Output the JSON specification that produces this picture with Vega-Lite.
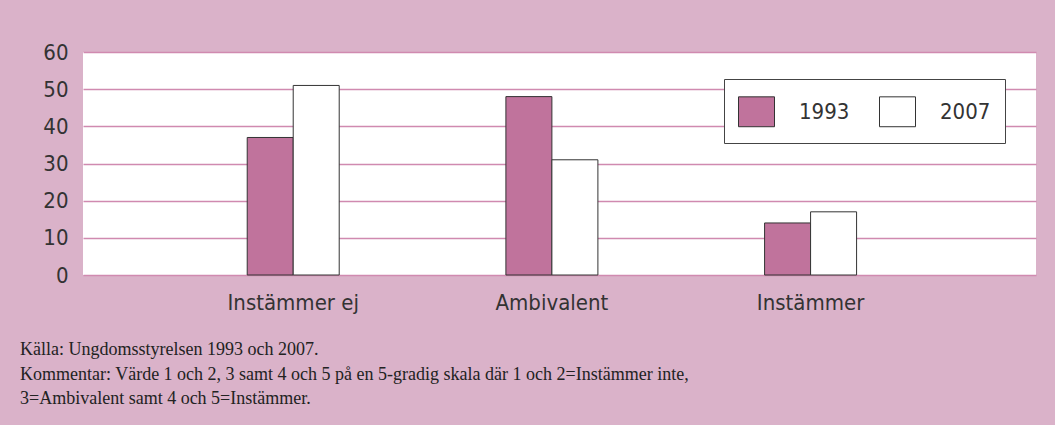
{
  "$schema": "https://vega.github.io/schema/vega-lite/v6.json",
  "autosize": {"type": "none"},
  "width": 953,
  "height": 223,
  "padding": {"left": 83, "top": 52, "right": 19, "bottom": 150},
  "background": "#dab2c9",
  "data": {
    "values": [
      {"kategori": "Instämmer ej", "år": "1993", "andel": 37},
      {"kategori": "Instämmer ej", "år": "2007", "andel": 51},
      {"kategori": "Ambivalent", "år": "1993", "andel": 48},
      {"kategori": "Ambivalent", "år": "2007", "andel": 31},
      {"kategori": "Instämmer", "år": "1993", "andel": 14},
      {"kategori": "Instämmer", "år": "2007", "andel": 17}
    ]
  },
  "title": {
    "text": [
      "Källa: Ungdomsstyrelsen 1993 och 2007.",
      "Kommentar:  Värde 1 och 2, 3 samt 4 och 5 på en 5-gradig skala där 1 och 2=Instämmer inte,",
      "3=Ambivalent samt 4 och 5=Instämmer."
    ],
    "orient": "bottom",
    "anchor": "start",
    "frame": "group",
    "dx": -63,
    "offset": 28,
    "font": "Liberation Serif",
    "fontSize": 18,
    "fontWeight": "normal",
    "lineHeight": 24.5,
    "color": "#222222"
  },
  "mark": {"type": "bar", "stroke": "#333333", "strokeWidth": 1},
  "encoding": {
    "x": {
      "field": "kategori",
      "type": "nominal",
      "sort": ["Instämmer ej", "Ambivalent", "Instämmer"],
      "scale": {"paddingInner": 0, "paddingOuter": 0.342, "align": 0.457},
      "axis": {
        "title": null,
        "labelAngle": 0,
        "domain": false,
        "ticks": false,
        "labelPadding": 17,
        "labelFont": "DejaVu Sans Condensed",
        "labelFontSize": 22,
        "labelColor": "#333333"
      }
    },
    "xOffset": {
      "field": "år",
      "type": "nominal",
      "scale": {"paddingInner": 0, "paddingOuter": 0, "range": [83.35, 175.35]}
    },
    "y": {
      "field": "andel",
      "type": "quantitative",
      "scale": {"domain": [0, 60], "nice": false},
      "axis": {
        "title": null,
        "values": [0, 10, 20, 30, 40, 50, 60],
        "domain": false,
        "ticks": false,
        "labelPadding": 15,
        "labelFont": "DejaVu Sans Condensed",
        "labelFontSize": 22,
        "labelColor": "#333333",
        "gridColor": "#d08ab0",
        "gridWidth": 1.5
      }
    },
    "color": {
      "field": "år",
      "type": "nominal",
      "scale": {"domain": ["1993", "2007"], "range": ["#c0739c", "#ffffff"]},
      "legend": {
        "title": null,
        "orient": "none",
        "direction": "horizontal",
        "legendX": 641,
        "legendY": 27,
        "padding": 14,
        "fillColor": "#ffffff",
        "strokeColor": "#444444",
        "symbolType": "M-1,-0.83H1V0.83H-1Z",
        "symbolSize": 1296,
        "symbolStrokeColor": "#333333",
        "symbolStrokeWidth": 1,
        "symbolOpacity": 1,
        "labelOffset": 24,
        "columnPadding": 27,
        "labelFont": "DejaVu Sans Condensed",
        "labelFontSize": 22,
        "labelColor": "#333333"
      }
    }
  },
  "config": {
    "view": {"fill": "#ffffff", "stroke": null}
  }
}
